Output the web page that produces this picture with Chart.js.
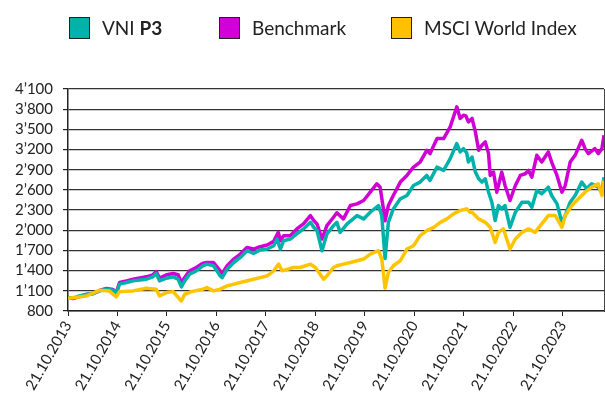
<!DOCTYPE html>
<html>
<head>
<meta charset="utf-8">
<script src="https://cdn.jsdelivr.net/npm/chart.js@4.4.1/dist/chart.umd.min.js"></script>
<style>
  body { margin: 0; background: #fff; }
  #wrap { position: relative; width: 605px; height: 401px; font-family: "Lato", sans-serif; color: #222; }
  #chart { position: absolute; left: 0; top: 0; }
  .lg { position: absolute; top: 16px; height: 23px; display: flex; align-items: center; font-size: 19px; white-space: nowrap; }
  .lg i { display: inline-block; width: 19px; height: 20px; border: 1.5px solid #222; margin-right: 12px; }
</style>
</head>
<body>
<div id="wrap">
  <canvas id="chart" width="605" height="401"></canvas>
  <div class="lg" style="left:69px"><i style="background:#00b2aa"></i>VNI&nbsp;<b>P3</b></div>
  <div class="lg" style="left:219px"><i style="background:#d200d8"></i>Benchmark</div>
  <div class="lg" style="left:391px"><i style="background:#ffc000"></i>MSCI World Index</div>
</div>
<script>
// x = months since 21.10.2013
const xTickLabels = ["21.10.2013", "21.10.2014", "21.10.2015", "21.10.2016", "21.10.2017", "21.10.2018",
	"21.10.2019", "21.10.2020", "21.10.2021", "21.10.2022", "21.10.2023"];

const vniMonths = [0, 1.2, 2.8, 4.5, 6.1, 7.7, 9.3, 10.9, 11.7, 12.5, 14.2, 15.8, 19.0, 20.6, 21.4, 22.2, 23.9, 25.5,
	26.7, 27.5, 28.3, 29.5, 31.1, 32.7, 33.7, 35.3, 36.9, 37.4, 38.6, 40.2, 41.8, 43.4, 45.0, 46.6, 48.3, 49.9, 50.7,
	51.5, 52.3, 53.9, 55.5, 57.1, 58.8, 59.6, 60.4, 61.6, 62.8, 64.4, 65.2, 66.0, 67.7, 70.1, 71.7, 73.3, 75.3, 76.1,
	76.9, 77.7, 78.9, 80.6, 82.2, 83.8, 85.4, 87.0, 87.8, 89.5, 91.1, 92.7, 94.3, 95.1, 95.9, 96.7, 97.1, 98.0, 98.8,
	99.6, 100.4, 101.2, 102.0, 102.8, 103.6, 104.4, 105.2, 106.0, 107.2, 108.5, 110.1, 111.7, 112.5, 113.7, 114.9,
	116.5, 117.3, 118.6, 119.8, 120.6, 121.8, 123.0, 124.6, 125.8, 127.0, 128.6, 129.5, 130];
const vniValues = [1000, 990, 1024, 1049, 1058, 1099, 1124, 1109, 1058, 1199, 1223, 1248, 1273, 1308, 1357, 1248, 1288, 1308,
	1273, 1158, 1248, 1348, 1397, 1472, 1497, 1472, 1322, 1297, 1422, 1521, 1596, 1696, 1656, 1706, 1721, 1770, 1870,
	1721, 1845, 1870, 1945, 2020, 2118, 2044, 1994, 1696, 1945, 2069, 2118, 1969, 2094, 2218, 2169, 2268, 2368, 2218,
	1580, 2118, 2318, 2467, 2517, 2666, 2716, 2815, 2741, 2940, 2890, 3065, 3289, 3164, 3214, 3150, 3014, 3089, 2865,
	2766, 2716, 2766, 2566, 2417, 2144, 2368, 2318, 2368, 2044, 2268, 2417, 2417, 2343, 2592, 2542,
	2641, 2517, 2393, 2118, 2218, 2417, 2517, 2716, 2617, 2691, 2641, 2566, 2790];

const benchMonths = [0, 1.2, 2.8, 4.5, 6.1, 7.7, 9.3, 10.9, 11.7, 12.5, 14.2, 15.8, 19.0, 20.6, 21.4, 22.2, 23.9, 25.5,
	26.7, 27.5, 28.3, 29.5, 31.1, 32.7, 33.7, 35.3, 36.9, 37.4, 38.6, 40.2, 41.8, 43.4, 45.0, 46.6, 48.3, 49.9, 51.0,
	51.5, 52.3, 53.9, 55.5, 57.1, 58.8, 59.6, 60.4, 61.6, 62.8, 64.4, 65.2, 66.8, 68.5, 70.1, 71.7, 73.3, 74.9, 75.7,
	76.5, 76.9, 77.7, 78.9, 80.6, 82.2, 83.8, 85.4, 87.0, 87.8, 89.5, 91.1, 92.7, 94.3, 95.1, 95.9, 96.5, 97.1, 98.0,
	98.8, 99.6, 100.4, 101.2, 102.0, 102.4, 103.2, 104.0, 105.2, 106.0, 107.2, 108.5, 109.7, 110.9, 111.7, 112.5,
	113.7, 114.9, 116.5, 117.3, 118.6, 119.8, 120.6, 121.8, 123.0, 124.6, 125.4, 126.2, 127.8, 128.6, 129.5, 130];
const benchValues = [1000, 985, 1015, 1045, 1060, 1105, 1135, 1120, 1070, 1223, 1248, 1273, 1308, 1338, 1387, 1288, 1338, 1357,
	1338, 1223, 1298, 1397, 1447, 1510, 1521, 1521, 1397, 1357, 1472, 1572, 1646, 1745, 1721, 1756, 1781, 1835, 1969,
	1845, 1920, 1920, 2020, 2094, 2218, 2144, 2094, 1870, 2069, 2193, 2260, 2169, 2368, 2393, 2442, 2566, 2691, 2641,
	2318, 2140, 2368, 2517, 2716, 2815, 2940, 3014, 3189, 3139, 3363, 3363, 3537, 3835, 3662, 3711, 3700, 3612, 3662,
	3463, 3189, 3264, 3313, 3139, 2815, 2865, 2566, 2865, 2666, 2442, 2666, 2815, 2840, 2890, 2790,
	3114, 3014, 3164, 3014, 2815, 2566, 2666, 3014, 3114, 3338, 3214, 3139, 3214, 3139, 3214, 3413];

const msciMonths = [0, 4.5, 7.7, 10.0, 11.7, 12.5, 15.8, 19.0, 21.4, 22.2, 23.9, 25.5, 27.1, 27.5, 28.3, 29.9, 32.7, 33.7,
	35.3, 36.9, 38.6, 41.8, 45.0, 48.3, 49.9, 51.1, 51.9, 54.7, 56.3, 58.8, 60.0, 62.0, 62.8, 64.4, 65.2, 66.8, 68.5,
	70.1, 71.7, 73.3, 75.3, 76.1, 76.9, 77.7, 78.9, 80.6, 82.2, 83.8, 85.4, 87.0, 88.7, 90.3, 91.9, 93.5, 95.1, 96.7,
	97.5, 98.0, 99.6, 101.2, 102.4, 103.6, 104.4, 105.6, 106.4, 107.2, 108.5, 110.1, 111.7, 113.3, 114.9, 116.5,
	118.2, 119.8, 120.6, 122.2, 123.8, 125.4, 127.0, 128.6, 129.5, 130];
const msciValues = [990, 1024, 1109, 1099, 1009, 1088, 1099, 1139, 1124, 1024, 1074, 1088, 975, 949, 1049, 1088, 1124, 1148,
	1099, 1124, 1173, 1223, 1273, 1322, 1397, 1497, 1397, 1447, 1447, 1497, 1447, 1273, 1322, 1447, 1472, 1497, 1521,
	1547, 1572, 1646, 1696, 1572, 1140, 1372, 1472, 1547, 1721, 1770, 1920, 1994, 2044, 2118, 2169, 2243, 2293, 2318,
	2268, 2268, 2169, 2118, 2044, 1820, 1969, 2020, 1870, 1721, 1870, 1969, 2020, 1969, 2094, 2218,
	2218, 2044, 2218, 2368, 2467, 2566, 2641, 2691, 2517, 2741];

const toPoints = (xs, ys) => xs.map((x, i) => ({ x: x, y: ys[i] }));

const fmtThousands = (v) => {
	if (v < 1000) return String(v);
	return Math.floor(v / 1000) + "\u2019" + String(v % 1000).padStart(3, "0");
};

const tickFont = { family: "Lato", size: 15 };

new Chart(document.getElementById("chart"), {
	type: "line",
	data: {
		datasets: [
			{
				label: "MSCI World Index",
				data: toPoints(msciMonths, msciValues),
				borderColor: "#ffc400",
				borderWidth: 3.5,
				order: 0,
			},
			{
				label: "VNI P3",
				data: toPoints(vniMonths, vniValues),
				borderColor: "#00b2aa",
				borderWidth: 3.5,
				order: 1,
			},
			{
				label: "Benchmark",
				data: toPoints(benchMonths, benchValues),
				borderColor: "#d000d4",
				borderWidth: 3.5,
				order: 2,
			},
		],
	},
	options: {
		responsive: false,
		animation: false,
		devicePixelRatio: 1,
		elements: { point: { radius: 0 }, line: { tension: 0, borderJoinStyle: "round" } },
		layout: { padding: { top: 89, left: 0, right: 0, bottom: 0 } },
		plugins: { legend: { display: false }, tooltip: { enabled: false } },
		scales: {
			x: {
				type: "linear",
				min: 0,
				max: 130,
				afterFit: (s) => { s.height = 90; },
				afterBuildTicks: (s) => { s.ticks = xTickLabels.map((t, i) => ({ value: i * 12 })); },
				ticks: {
					autoSkip: false,
					minRotation: 60,
					maxRotation: 60,
					padding: 2,
					color: "#222",
					font: tickFont,
					callback: (v) => xTickLabels[Math.round(v / 12)],
				},
				grid: { drawOnChartArea: false, drawTicks: true, tickLength: 5, color: "#222" },
				border: { color: "#222", width: 1.5 },
			},
			y: {
				min: 800,
				max: 4100,
				afterFit: (s) => { s.width = 68; },
				ticks: {
					autoSkip: false,
					stepSize: 300,
					padding: 10,
					color: "#222",
					font: tickFont,
					callback: (v) => fmtThousands(v),
				},
				grid: { color: "#333", lineWidth: 1.2, tickLength: 5, tickColor: "#222" },
				border: { color: "#222", width: 1.5 },
			},
			right: {
				position: "right",
				min: 800,
				max: 4100,
				afterFit: (s) => { s.width = 1; },
				ticks: { display: false },
				grid: { display: false },
				border: { color: "#444", width: 1 },
			},
		},
	},
});
</script>
</body>
</html>
